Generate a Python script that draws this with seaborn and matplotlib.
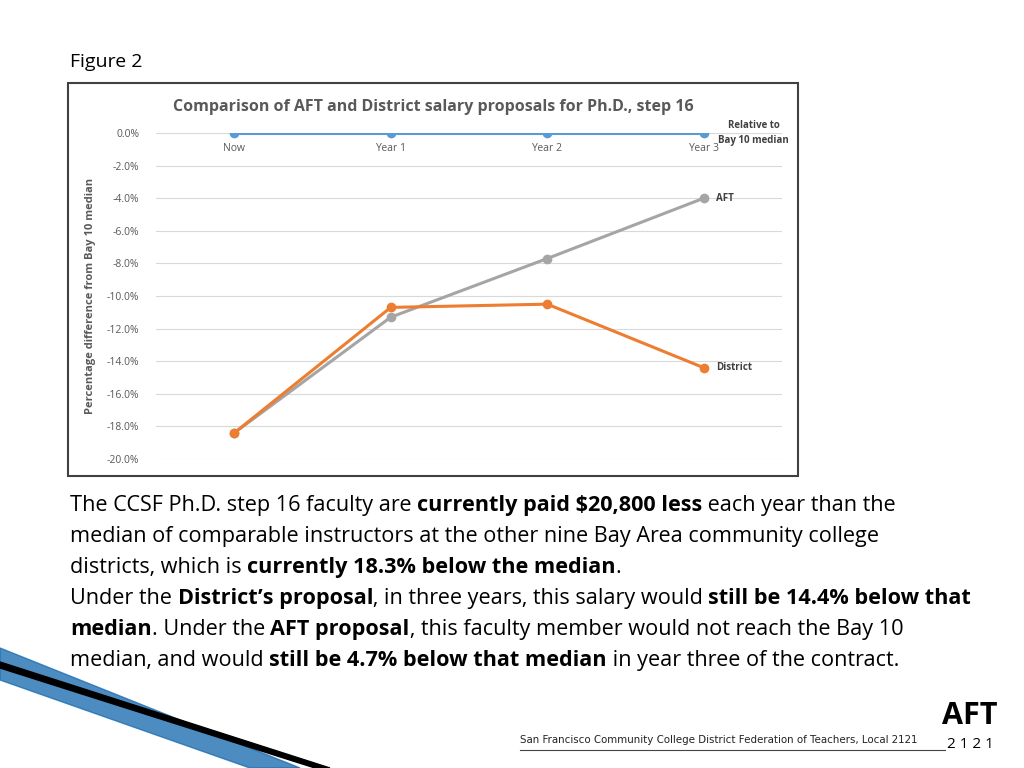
import matplotlib
matplotlib.use("Agg")
import matplotlib.pyplot as plt
import seaborn as sns
import pandas as pd
from matplotlib.patches import Rectangle, Polygon

periods = ["Now", "Year 1", "Year 2", "Year 3"]
relative = [0.0, 0.0, 0.0, 0.0]
aft = [-18.4, -11.3, -7.7, -4.0]
district = [-18.4, -10.7, -10.5, -14.4]

df = pd.DataFrame({
    "x": list(range(4)) * 3,
    "val": relative + aft + district,
    "series": ["Relative"] * 4 + ["AFT"] * 4 + ["District"] * 4,
})
palette = {"Relative": "#5b9bd5", "AFT": "#a5a5a5", "District": "#ed7d31"}

FONT = "Open Sans"
fig = plt.figure(figsize=(10.24, 7.68), dpi=100)
fig.patch.set_facecolor("white")
W, H = 1024, 768

def fx(px): return px / W
def fy(py): return 1 - py / H

# chart frame
fig.patches.append(Rectangle((fx(68), fy(476)), fx(798) - fx(68), fy(83) - fy(476),
                             transform=fig.transFigure, fill=False, ec="#404040", lw=1.5))

ax = fig.add_axes([fx(156), fy(459), fx(782) - fx(156), fy(133) - fy(459)])
sns.lineplot(data=df, x="x", y="val", hue="series", palette=palette, marker="o",
             markersize=7, markeredgewidth=0, linewidth=2.2, ax=ax, legend=False)
ax.set_xlim(-0.5, 3.5)
ax.set_ylim(-20, 0)
ax.set_yticks([-2 * i for i in range(11)])
ax.set_yticklabels([f"{-2.0 * i:.1f}%" if i else "0.0%" for i in range(11)],
                   fontsize=7.5, color="#595959", family=FONT)
ax.set_xticks([])
ax.yaxis.grid(True, color="#d9d9d9", lw=0.8)
ax.set_axisbelow(True)
for s in ax.spines.values():
    s.set_visible(False)
ax.tick_params(axis="y", length=0, pad=12)
ax.set_xlabel("")
ax.set_ylabel("Percentage difference from Bay 10 median", fontsize=8, color="#595959",
              family=FONT, fontweight="bold", labelpad=8)
for i, p in enumerate(periods):
    ax.text(i, -0.6, p, ha="center", va="top", fontsize=7.5, color="#595959", family=FONT)
ax.text(3.32, 0.0, "Relative to\nBay 10 median", ha="center", va="center", fontsize=7,
        color="#404040", family=FONT, fontweight="bold", linespacing=1.4, clip_on=False)
ax.text(3.08, aft[3], "AFT", ha="left", va="center", fontsize=7, color="#404040",
        family=FONT, fontweight="bold")
ax.text(3.08, district[3], "District", ha="left", va="center", fontsize=7, color="#404040",
        family=FONT, fontweight="bold")
fig.text(fx(433), fy(107), "Comparison of AFT and District salary proposals for Ph.D., step 16",
         ha="center", va="center", fontsize=11.5, color="#595959", family=FONT, fontweight="bold")

fig.text(fx(70), fy(62), "Figure 2", ha="left", va="center", fontsize=14, family=FONT)

lines = [
    [("The CCSF Ph.D. step 16 faculty are ", False), ("currently paid $20,800 less", True),
     (" each year than the", False)],
    [("median of comparable instructors at the other nine Bay Area community college", False)],
    [("districts, which is ", False), ("currently 18.3% below the median", True), (".", False)],
    [("Under the ", False), ("District\u2019s proposal", True),
     (", in three years, this salary would ", False), ("still be 14.4% below that", True)],
    [("median", True), (". Under the ", False), ("AFT proposal", True),
     (", this faculty member would not reach the Bay 10", False)],
    [("median, and would ", False), ("still be 4.7% below that median", True),
     (" in year three of the contract.", False)],
]
renderer = fig.canvas.get_renderer()
y0 = 511
for li, segs in enumerate(lines):
    x = fx(70)
    for txt, bold in segs:
        t = fig.text(x, fy(y0 + li * 31), txt, ha="left", va="baseline", fontsize=15.6,
                     family=FONT, fontweight="bold" if bold else "normal")
        bb = t.get_window_extent(renderer)
        x += bb.width / W

# swoosh decoration
fig.patches.append(Polygon([[0, fy(648)], [fx(300), fy(768)], [fx(250), fy(768)], [0, fy(680)]],
                           closed=True, transform=fig.transFigure, color="#1f6fb2", alpha=0.8))
fig.patches.append(Polygon([[0, fy(662)], [fx(330), fy(768)], [fx(315), fy(768)], [0, fy(668)]],
                           closed=True, transform=fig.transFigure, color="black"))
fig.text(fx(520), fy(740), "San Francisco Community College District Federation of Teachers, Local 2121",
         ha="left", va="center", fontsize=7.4, family="Liberation Sans Narrow", color="#222222")
fig.text(fx(970), fy(716), "AFT", ha="center", va="center", fontsize=22, family=FONT,
         fontweight="bold")
fig.text(fx(970), fy(744), "2 1 2 1", ha="center", va="center", fontsize=11, family=FONT)
fig.lines.append(plt.Line2D([fx(520), fx(945)], [fy(750), fy(750)], transform=fig.transFigure,
                            color="#444444", lw=0.8))

fig.savefig("out.png", dpi=100)
